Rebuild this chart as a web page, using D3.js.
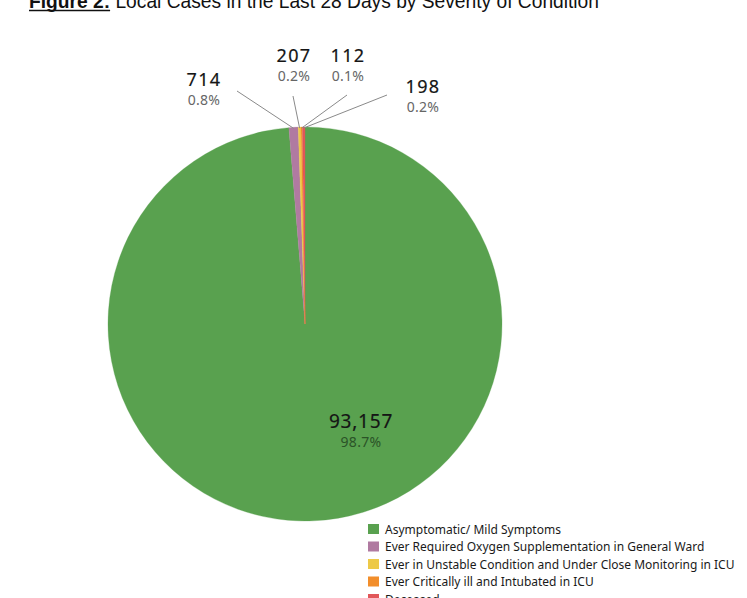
<!DOCTYPE html>
<html>
<head>
<meta charset="utf-8">
<script src="https://cdn.jsdelivr.net/npm/d3@7"></script>
<style>
  body { margin: 0; background: #fff; }
  svg { display: block; }
</style>
</head>
<body>
<div id="chart"></div>
<script>
// Severity categories, in slice order (clockwise from 12 o'clock)
const categories = [
  'Asymptomatic/ Mild Symptoms',
  'Ever Required Oxygen Supplementation in General Ward',
  'Ever in Unstable Condition and Under Close Monitoring in ICU',
  'Ever Critically ill and Intubated in ICU',
  'Deceased'
];
const caseCounts = [93157, 714, 207, 112, 198];
const percentLabels = ['98.7%', '0.8%', '0.2%', '0.1%', '0.2%'];
const sliceColors = ['#59a14f', '#b07aa1', '#edc948', '#f28e2b', '#e15759'];

const titleBold = 'Figure 2:';
const titleRest = ' Local Cases in the Last 28 Days by Severity of Condition';

const width = 747, height = 598;
const cx = 305, cy = 324, radius = 197;

// Label placement relative to pie centre (layout only)
const labelLayout = [
  {dx: 56, dy: 104, lx: null, ly: null},
  {dx: -101, dy: -238, lx: -68, ly: -233},
  {dx: -11, dy: -262, lx: -12, ly: -228},
  {dx: 43, dy: -262, lx: 42, ly: -229},
  {dx: 118, dy: -231, lx: 82, ly: -229}
];

const data = categories.map((c, i) => ({
  category: c, value: caseCounts[i], pct: percentLabels[i], color: sliceColors[i]
}));

const svg = d3.select('#chart').append('svg')
  .attr('width', width)
  .attr('height', height);

// Title (cut at the top edge like the source)
const title = svg.append('text')
  .attr('x', 29)
  .attr('y', 8)
  .style('font-family', '"Liberation Sans Narrow", "Arial Narrow", "Liberation Sans", sans-serif')
  .style('font-size', '20px')
  .attr('fill', '#111');
title.append('tspan').attr('font-weight', 'bold').text(titleBold);
title.append('tspan').text(titleRest);
title.attr('textLength', 570).attr('lengthAdjust', 'spacingAndGlyphs');

const boldLen = title.node().getSubStringLength(0, titleBold.length);
svg.append('line')
  .attr('x1', 29).attr('x2', 29 + boldLen)
  .attr('y1', 10.5).attr('y2', 10.5)
  .attr('stroke', '#111').attr('stroke-width', 1.6);

// Pie
const pie = d3.pie().sort(null).value(d => d.value).startAngle(0).endAngle(2 * Math.PI);
const arc = d3.arc().innerRadius(0).outerRadius(radius);
const arcs = pie(data);

const g = svg.append('g').attr('transform', `translate(${cx},${cy})`);

g.selectAll('path.slice')
  .data(arcs)
  .enter()
  .append('path')
  .attr('class', 'slice')
  .attr('d', arc)
  .attr('fill', d => d.data.color)
  .attr('stroke', d => d.data.color)
  .attr('stroke-width', 0.3);

// Leader lines for the small slices
const edgeArc = d3.arc().innerRadius(radius - 1).outerRadius(radius - 1);
g.selectAll('line.leader')
  .data(arcs.filter((d, i) => labelLayout[i].lx !== null))
  .enter()
  .append('line')
  .attr('class', 'leader')
  .attr('x1', d => labelLayout[d.index].lx)
  .attr('y1', d => labelLayout[d.index].ly)
  .attr('x2', d => edgeArc.centroid(d)[0])
  .attr('y2', d => edgeArc.centroid(d)[1])
  .attr('stroke', '#8a8a8a')
  .attr('stroke-width', 1);

// Value labels
const labels = g.selectAll('g.label')
  .data(arcs)
  .enter()
  .append('g')
  .attr('class', 'label')
  .attr('transform', d => `translate(${labelLayout[d.index].dx},${labelLayout[d.index].dy})`)
  .style('font-family', '"Noto Sans", "Open Sans", sans-serif')
  .attr('text-anchor', 'middle');

labels.append('text')
  .attr('y', 0)
  .style('font-size', d => d.index === 0 ? '19px' : '18px')
  .style('letter-spacing', d => d.index === 0 ? '0.8px' : '1.3px')
  .attr('fill', '#151515')
  .attr('stroke', '#151515')
  .attr('stroke-width', 0.2)
  .text(d => d3.format(',')(d.data.value));

labels.append('text')
  .attr('y', 19)
  .style('font-size', '14px')
  .style('letter-spacing', '0.3px')
  .attr('fill', d => d.index === 0 ? '#2b5327' : '#666')
  .text(d => d.data.pct);

// Legend
const legend = svg.append('g')
  .attr('transform', 'translate(368,524)')
  .style('font-family', '"Noto Sans", "Open Sans", sans-serif')
  .style('font-size', '12px');

const rows = legend.selectAll('g')
  .data(data)
  .enter()
  .append('g')
  .attr('transform', (d, i) => `translate(0,${i * 17.5})`);

rows.append('rect')
  .attr('width', 11)
  .attr('height', 10)
  .attr('fill', d => d.color);

rows.append('text')
  .attr('x', 17)
  .attr('y', 9.5)
  .attr('fill', '#1a1a1a')
  .text(d => d.category);
</script>
</body>
</html>
